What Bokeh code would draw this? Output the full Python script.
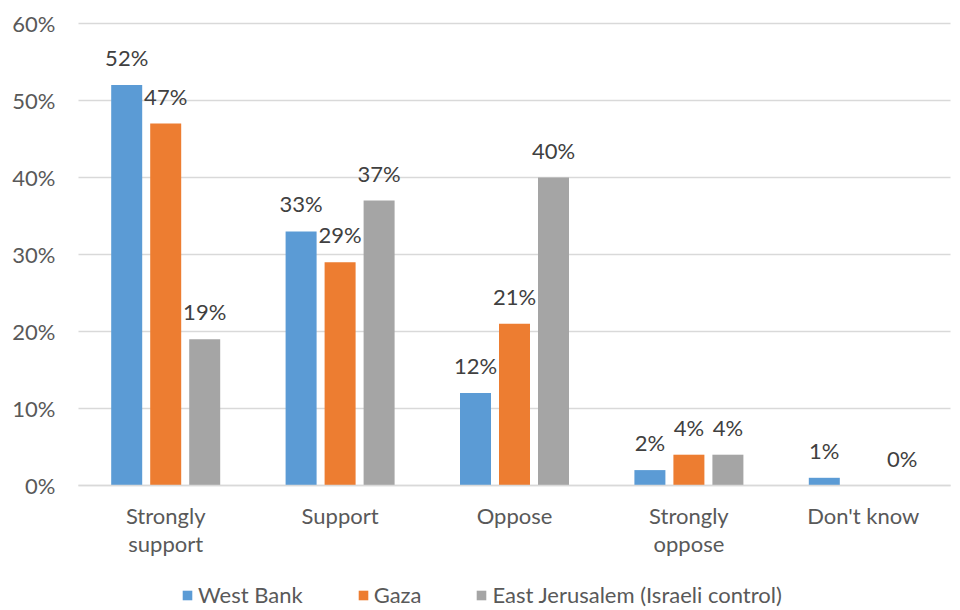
from bokeh.plotting import figure
from bokeh.models import (ColumnDataSource, Range1d, FixedTicker,
                          NumeralTickFormatter, Legend, LegendItem)
from bokeh.core.properties import value
from bokeh.embed import file_html
from bokeh.resources import INLINE

categories = ["Strongly\nsupport", "Support", "Oppose", "Strongly\noppose", "Don't know"]
west_bank = [52, 33, 12, 2, 1]
gaza = [47, 29, 21, 4, None]
east_jerusalem = [19, 37, 40, 4, 0]
series_names = ["West Bank", "Gaza", "East Jerusalem (Israeli control)"]
colors = ["#5B9BD5", "#ED7D31", "#A5A5A5"]
y_ticks = [0, 0.1, 0.2, 0.3, 0.4, 0.5, 0.6]

FONT = "Lato"
FS = "22px"
W, H = 960, 610
PLOT_L, PLOT_R, PLOT_T, PLOT_B = 78, 950, 23, 485   # plot-area pixels
n = len(categories)
ppx = (PLOT_R - PLOT_L) / n            # pixels per category
ppy = (PLOT_B - PLOT_T) / 0.6          # pixels per unit (100%)

def frac(v):
    return float("nan") if v is None else v / 100.0

def lab(v):
    return "" if v is None else f"{v}%"

centers = [i + 0.5 for i in range(n)]
bw = 31 / ppx
off = 39 / ppx

p = figure(x_range=Range1d(-PLOT_L / ppx, n + (W - PLOT_R) / ppx),
           y_range=Range1d(-(H - PLOT_B) / ppy, 0.6 + PLOT_T / ppy),
           frame_width=W, frame_height=H,
           output_backend="svg", toolbar_location=None,
           min_border=0)
p.outline_line_color = None
p.background_fill_color = "white"
p.border_fill_color = "white"
p.xgrid.grid_line_color = None
p.ygrid.grid_line_color = None

# gridlines across the plot area only
p.segment(x0=[0] * len(y_ticks), x1=[n] * len(y_ticks), y0=y_ticks, y1=y_ticks,
          line_color="#D9D9D9", line_width=1.5)

renderers = []
for vals, o, c in ((west_bank, -off, colors[0]), (gaza, 0.0, colors[1]), (east_jerusalem, off, colors[2])):
    src = ColumnDataSource(dict(x=[cx + o for cx in centers],
                                top=[frac(v) for v in vals],
                                lab=[lab(v) for v in vals]))
    r = p.vbar(x="x", top="top", width=bw, source=src, fill_color=c, line_color=None)
    renderers.append(r)
    p.text(x="x", y="top", text="lab", source=src,
           text_align="center", text_baseline="bottom", y_offset=-14,
           text_font=value(FONT), text_font_size=FS, text_color="#404040")

# y axis
ya = p.yaxis[0]
ya.fixed_location = 0
ya.bounds = (0, 0.6)
ya.ticker = FixedTicker(ticks=y_ticks)
ya.formatter = NumeralTickFormatter(format="0%")
ya.axis_line_color = None
ya.major_tick_line_color = None
ya.major_tick_out = 0
ya.major_tick_in = 0
ya.minor_tick_line_color = None
ya.major_label_text_font = FONT
ya.major_label_text_font_size = FS
ya.major_label_text_color = "#595959"
ya.major_label_standoff = 23

# x axis
xa = p.xaxis[0]
xa.fixed_location = 0
xa.bounds = (0, n)
xa.ticker = FixedTicker(ticks=centers)
xa.major_label_overrides = {c: lab_ for c, lab_ in zip(centers, categories)}
xa.axis_line_color = "#D9D9D9"
xa.axis_line_width = 1.5
xa.major_tick_line_color = None
xa.major_tick_out = 0
xa.major_tick_in = 0
xa.minor_tick_line_color = None
xa.major_label_text_font = FONT
xa.major_label_text_font_size = FS
xa.major_label_text_color = "#595959"
xa.major_label_standoff = 16
xa.major_label_text_line_height = 1.05

legend = Legend(items=[LegendItem(label=nm, renderers=[r]) for nm, r in zip(series_names, renderers)],
                orientation="horizontal", location=(181, 2),
                border_line_color=None, background_fill_alpha=0,
                label_text_font=FONT, label_text_font_size=FS,
                label_text_color="#595959", glyph_width=12, glyph_height=12,
                spacing=54, label_standoff=5, padding=0, margin=0)
p.add_layout(legend, "center")

open("out.html", "w").write(file_html(p, INLINE))
